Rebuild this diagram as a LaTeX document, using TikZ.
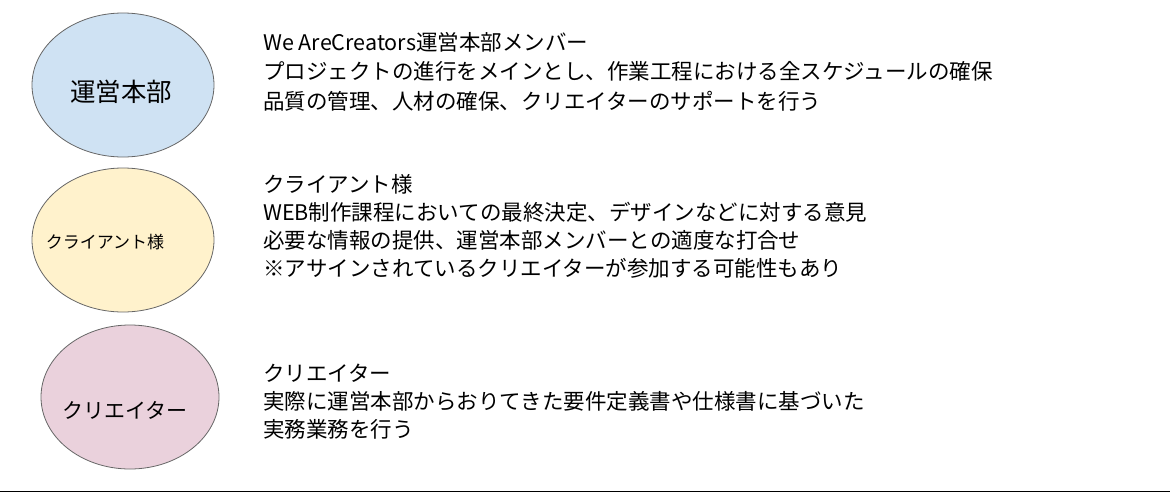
\documentclass[tikz,border=0pt]{standalone}
\usepackage{fontspec}
\setmainfont{Noto Sans CJK JP}
\usetikzlibrary{shapes.geometric}
\definecolor{headblue}{HTML}{CFE2F3}
\definecolor{clientyellow}{HTML}{FFF2CC}
\definecolor{creatorpink}{HTML}{EAD1DC}
\tikzset{
  role/.style={ellipse,draw=black!60,line width=.8pt,minimum width=182pt,minimum height=144pt,inner sep=0pt},
  blurb/.style={anchor=north west,align=left,inner sep=0pt,font=\fontsize{21.5}{28}\selectfont}
}
\begin{document}
\begin{tikzpicture}[x=1pt,y=-1pt]
\useasboundingbox (0,0) rectangle (1170,493);
\node [role,fill=headblue] (head) at (123,85) {};
\node [role,fill=clientyellow] (client) at (123,240) {};
\node [role,fill=creatorpink,minimum width=178pt] (creator) at (130,397) {};
\node [font=\fontsize{25.5}{30}\selectfont] (headlabel) at (121,92) {運営本部};
\node [font=\fontsize{17}{20}\selectfont] (clientlabel) at (105,242) {クライアント様};
\node [font=\fontsize{21}{25}\selectfont] (creatorlabel) at (125,410) {クリエイター};
\node [blurb,font=\fontsize{21.5}{29.5}\selectfont] (headtext) at (263,32) {We AreCreators運営本部メンバー\\
  プロジェクトの進行をメインとし、作業工程における全スケジュールの確保\\
  品質の管理、人材の確保、クリエイターのサポートを行う};
\node [blurb] (clienttext) at (263,174) {クライアント様\\
  WEB制作課程においての最終決定、デザインなどに対する意見\\
  必要な情報の提供、運営本部メンバーとの適度な打合せ\\
  ※アサインされているクリエイターが参加する可能性もあり};
\node [blurb] (creatortext) at (263,364) {クリエイター\\
  実際に運営本部からおりてきた要件定義書や仕様書に基づいた\\
  実務業務を行う};
\coordinate (rulel) at (0,491.5);
\coordinate (ruler) at (1170,491.5);
\draw [line width=1.5pt] (rulel) -- (ruler);
\end{tikzpicture}
\end{document}
